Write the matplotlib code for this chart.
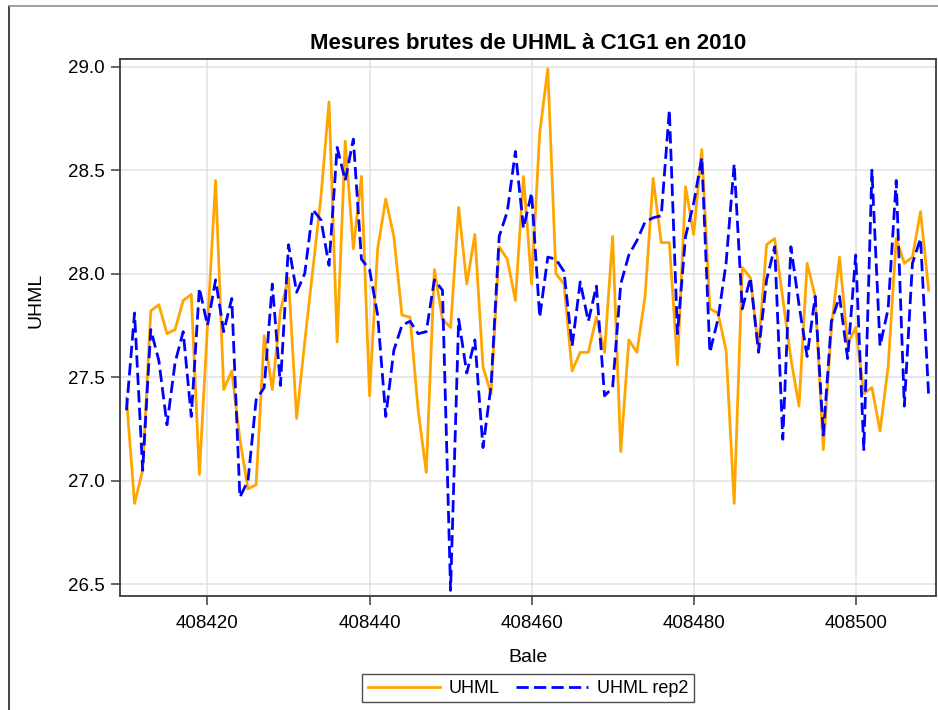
import matplotlib
matplotlib.use("Agg")
import matplotlib.pyplot as plt
from matplotlib.lines import Line2D

plt.rcParams['font.family'] = ['Liberation Sans', 'DejaVu Sans']

# bale numbers, one measurement per bale
bale = list(range(408410, 408510))

uhml = [
    27.40, 26.89, 27.05, 27.82, 27.85, 27.71, 27.73, 27.87, 27.90, 27.03,
    27.75, 28.45, 27.44, 27.53, 27.20, 26.96, 26.98, 27.70, 27.44, 27.82,
    27.98, 27.30, 27.67, 28.02, 28.37, 28.83, 27.67, 28.64, 28.12, 28.47,
    27.41, 28.12, 28.36, 28.18, 27.80, 27.79, 27.34, 27.04, 28.02, 27.78,
    27.74, 28.32, 27.95, 28.19, 27.55, 27.42, 28.13, 28.07, 27.87, 28.47,
    27.95, 28.68, 28.99, 28.00, 27.95, 27.53, 27.62, 27.62, 27.79, 27.62,
    28.18, 27.14, 27.68, 27.62, 27.89, 28.46, 28.15, 28.15, 27.56, 28.42,
    28.19, 28.60, 27.83, 27.81, 27.63, 26.89, 28.03, 27.98, 27.64, 28.14,
    28.17, 27.88, 27.59, 27.36, 28.05, 27.89, 27.15, 27.74, 28.08, 27.66,
    27.74, 27.42, 27.45, 27.24, 27.55, 28.17, 28.05, 28.08, 28.30, 27.92,
]

uhml_rep2 = [
    27.34, 27.81, 27.05, 27.73, 27.58, 27.27, 27.57, 27.72, 27.31, 27.93,
    27.75, 27.97, 27.72, 27.88, 26.92, 27.00, 27.39, 27.45, 27.95, 27.46,
    28.14, 27.91, 28.00, 28.31, 28.26, 28.04, 28.61, 28.45, 28.65, 28.07,
    28.02, 27.80, 27.31, 27.63, 27.75, 27.77, 27.71, 27.72, 27.97, 27.92,
    26.47, 27.78, 27.52, 27.68, 27.16, 27.46, 28.18, 28.30, 28.59, 28.22,
    28.39, 27.79, 28.08, 28.07, 28.01, 27.65, 27.96, 27.77, 27.94, 27.41,
    27.45, 27.95, 28.09, 28.16, 28.25, 28.27, 28.28, 28.79, 27.71, 28.18,
    28.34, 28.56, 27.62, 27.78, 28.05, 28.53, 27.83, 27.98, 27.62, 27.97,
    28.13, 27.20, 28.13, 27.85, 27.60, 27.89, 27.22, 27.77, 27.89, 27.59,
    28.09, 27.15, 28.50, 27.65, 27.83, 28.45, 27.36, 28.05, 28.17, 27.41,
]

x_ticks = [408420, 408440, 408460, 408480, 408500]
y_ticks = [26.5, 27.0, 27.5, 28.0, 28.5, 29.0]

fig = plt.figure(figsize=(9.38, 7.10), dpi=100)
ax = fig.add_axes([0.1279, 0.1606, 0.8699, 0.7563])

ax.plot(bale, uhml, color="#FFA500", lw=2.0, label="UHML", zorder=3)
ax.plot(bale, uhml_rep2, color="#0000FF", lw=2.0, dashes=(4.4, 1.9),
        label="UHML rep2", zorder=4)

ax.set_xlim(408409.2, 408509.9)
ax.set_ylim(26.443, 29.037)
ax.set_xticks(x_ticks)
ax.set_yticks(y_ticks)
ax.set_yticklabels([f"{v:.1f}" for v in y_ticks])
ax.grid(True, color="#e1e1e1", lw=1.1, zorder=0)
ax.set_axisbelow(True)

for s in ax.spines.values():
    s.set_color("#3c3c3c")
    s.set_linewidth(1.3)
ax.tick_params(axis="both", length=6.5, width=1.1, color="#3c3c3c",
               labelsize=13.5, pad=4.5)
ax.tick_params(axis="x", pad=7.5)

ax.set_title("Mesures brutes de UHML à C1G1 en 2010", fontsize=16,
             fontweight="bold", pad=7)
ax.set_xlabel("Bale", fontsize=14, labelpad=12)
ax.set_ylabel("UHML", fontsize=14)
ax.yaxis.set_label_coords(-0.093, 0.55)

leg = fig.legend(loc="center", bbox_to_anchor=(0.563, 0.0305), ncol=2,
                 fontsize=13, frameon=True, fancybox=False, handlelength=4.0,
                 handletextpad=0.5, columnspacing=0.9, borderpad=0.3)
leg.get_frame().set_edgecolor("#222222")
leg.get_frame().set_linewidth(1.0)

# page border on left and top
fig.add_artist(Line2D([8.5 / 938, 8.5 / 938], [0, 1 - 6 / 710],
                      transform=fig.transFigure, color="#222222", lw=1.2))
fig.add_artist(Line2D([8.5 / 938, 1], [1 - 6 / 710, 1 - 6 / 710],
                      transform=fig.transFigure, color="#909090", lw=1.2))

fig.savefig("out.png", dpi=100)
